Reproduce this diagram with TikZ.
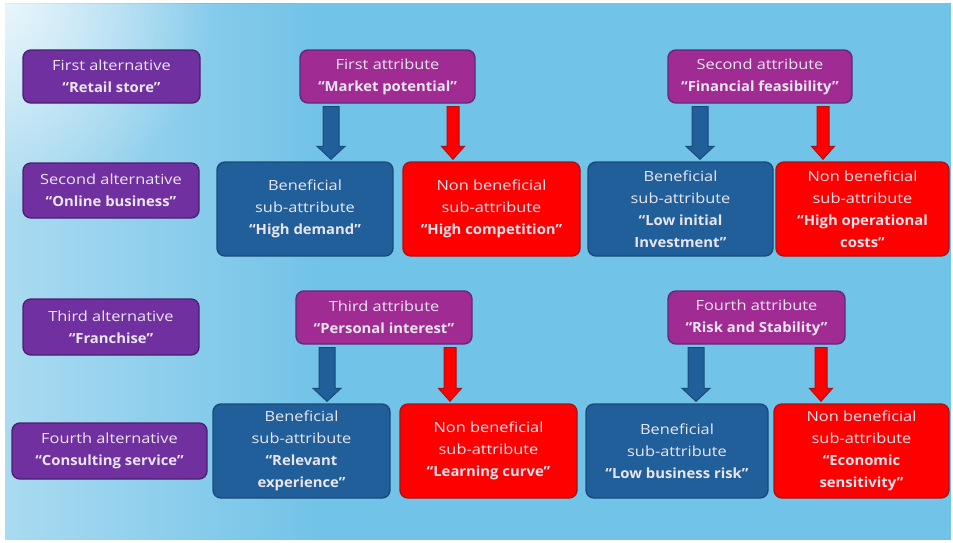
\documentclass[tikz,border=0pt]{standalone}
\usepackage{fontspec}
\setmainfont{Open Sans}[UprightFeatures={FakeStretch=1.17}, BoldFeatures={FakeStretch=1.06}]
\usetikzlibrary{calc,fadings}
\tikzfading[name=myradial, inner color=transparent!0, outer color=transparent!100]
\definecolor{bgblue}{HTML}{72C3E8}
\definecolor{altfill}{HTML}{7030A0}
\definecolor{altdraw}{HTML}{4A2070}
\definecolor{attfill}{HTML}{A02B93}
\definecolor{attdraw}{HTML}{5E2A7E}
\definecolor{benfill}{HTML}{215F9A}
\definecolor{bendraw}{HTML}{1A4A78}
\definecolor{nonfill}{HTML}{FF0000}
\definecolor{nondraw}{HTML}{B01010}
\definecolor{txt}{HTML}{EAE6F0}
\tikzset{
  box/.style={rounded corners=8pt, line width=1.4pt, align=center, text=txt,
    font=\fontsize{14}{22}\selectfont, inner sep=0pt},
  altbox/.style={box, fill=altfill, draw=altdraw},
  attbox/.style={box, fill=attfill, draw=attdraw},
  benbox/.style={box, fill=benfill, draw=bendraw, minimum height=94pt},
  nonbox/.style={box, fill=nonfill, draw=nondraw, minimum height=94pt},
  benarrow/.style={fill=benfill, draw=bendraw, line width=1pt, line join=miter},
  nonarrow/.style={fill=nonfill, draw=nondraw, line width=1pt, line join=miter}
}
\newcommand\blockarr[6]{%
  \path[#1] let \p1=(#2,0 |- #3.south), \p2=(#2,0 |- #4.north) in
    (\x1-#5,\y1-3pt) -- (\x1+#5,\y1-3pt) -- (\x1+#5,\y2+15pt) -- (\x1+#6,\y2+15pt)
    -- (\x1,\y2+2pt) -- (\x1-#6,\y2+15pt) -- (\x1-#5,\y2+15pt) -- cycle;}
\begin{document}
\begin{tikzpicture}[x=1pt,y=-1pt]
\useasboundingbox (0,0) rectangle (953,542);
\fill[white] (0,0) rectangle (953,542);
\fill[bgblue] (5,3) rectangle (951,540);
\begin{scope}
  \clip (5,3) rectangle (951,540);
  \fill[white, path fading=east, opacity=0.4] (5,3) rectangle (320,540);
  \fill[white, path fading=myradial, opacity=0.75] (5,3) circle (210);
\end{scope}

% alternatives
\node[altbox, minimum width=177pt, minimum height=53pt] (a1) at (111.5,76.5) {First alternative\\\textbf{“Retail store”}};
\node[altbox, minimum width=176pt, minimum height=55pt] (a2) at (111,190.5) {Second alternative\\\textbf{“Online business”}};
\node[altbox, minimum width=176pt, minimum height=56pt] (a3) at (111,327) {Third alternative\\\textbf{“Franchise”}};
\node[altbox, minimum width=195pt, minimum height=56pt] (a4) at (109.5,451) {Fourth alternative\\\textbf{“Consulting service”}};

% attributes
\node[attbox, minimum width=175pt, minimum height=53pt] (t1) at (387.5,76.5) {First attribute\\\textbf{“Market potential”}};
\node[attbox, minimum width=184pt, minimum height=53pt] (t2) at (760,76.5) {Second attribute\\\textbf{“Financial feasibility”}};
\node[attbox, minimum width=176pt, minimum height=53pt] (t3) at (384,317.5) {Third attribute\\\textbf{“Personal interest”}};
\node[attbox, minimum width=177pt, minimum height=53pt] (t4) at (756.5,317.5) {Fourth attribute\\\textbf{“Risk and Stability”}};

% sub-attributes row 1
\node[benbox, minimum width=176pt] (b1) at (305,209) {Beneficial\\sub-attribute\\\textbf{“High demand”}};
\node[nonbox, minimum width=177pt] (r1) at (491.5,209) {Non beneficial\\sub-attribute\\\textbf{“High competition”}};
\node[benbox, minimum width=185pt] (b2) at (680.5,209) {Beneficial\\sub-attribute\\\textbf{“Low initial}\\\textbf{Investment”}};
\node[nonbox, minimum width=173pt] (r2) at (862.5,209) {Non beneficial\\sub-attribute\\\textbf{“High operational}\\\textbf{costs”}};

% sub-attributes row 2
\node[benbox, minimum width=177pt] (b3) at (301.5,451) {Beneficial\\sub-attribute\\\textbf{“Relevant}\\\textbf{experience”}};
\node[nonbox, minimum width=177pt] (r3) at (488.5,451) {Non beneficial\\sub-attribute\\\textbf{“Learning curve”}};
\node[benbox, minimum width=182pt] (b4) at (677,451) {Beneficial\\sub-attribute\\\textbf{“Low business risk”}};
\node[nonbox, minimum width=175pt] (r4) at (861.5,451) {Non beneficial\\sub-attribute\\\textbf{“Economic}\\\textbf{sensitivity”}};

% arrows
\blockarr{benarrow}{331}{t1}{b1}{8pt}{14pt}
\blockarr{nonarrow}{453}{t1}{r1}{6pt}{11.5pt}
\blockarr{benarrow}{700}{t2}{b2}{8pt}{14pt}
\blockarr{nonarrow}{823}{t2}{r2}{6pt}{11.5pt}
\blockarr{benarrow}{327}{t3}{b3}{8pt}{14pt}
\blockarr{nonarrow}{450}{t3}{r3}{6pt}{11.5pt}
\blockarr{benarrow}{696}{t4}{b4}{8pt}{14pt}
\blockarr{nonarrow}{821}{t4}{r4}{6pt}{11.5pt}
\end{tikzpicture}
\end{document}
